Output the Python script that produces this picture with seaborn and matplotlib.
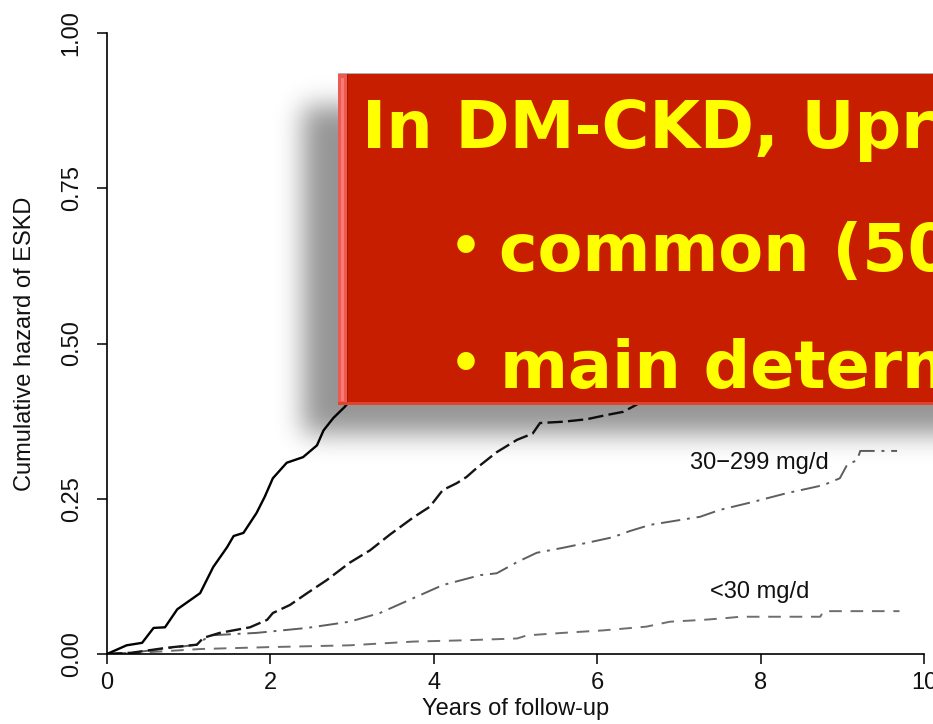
import numpy as np
import matplotlib
matplotlib.use("Agg")
import matplotlib.pyplot as plt
import seaborn as sns
from matplotlib.patches import Rectangle

# ---------------- data ----------------
# highest-risk group (solid black) - label hidden behind the overlay box
t_solid = [0, 0.24, 0.43, 0.57, 0.71, 0.86, 1.14, 1.30, 1.47, 1.55, 1.67, 1.83,
           1.93, 2.03, 2.20, 2.40, 2.57, 2.65, 2.77, 2.91, 3.05]
h_solid = [0, 0.014, 0.018, 0.042, 0.043, 0.072, 0.098, 0.140, 0.172, 0.190, 0.195,
           0.227, 0.253, 0.283, 0.308, 0.317, 0.336, 0.360, 0.380, 0.398, 0.420]

# second group (dashed black) - label hidden behind the overlay box
t_dash = [0, 0.30, 0.73, 1.10, 1.18, 1.38, 1.75, 1.96, 2.03, 2.24, 2.45, 2.69, 2.97,
          3.22, 3.46, 3.75, 3.95, 4.11, 4.28, 4.40, 4.53, 4.77, 5.02, 5.21, 5.30,
          5.58, 5.87, 6.12, 6.32, 6.60]
h_dash = [0, 0.002, 0.010, 0.015, 0.026, 0.034, 0.043, 0.055, 0.066, 0.079, 0.098,
          0.119, 0.147, 0.167, 0.192, 0.220, 0.237, 0.264, 0.275, 0.285, 0.300,
          0.325, 0.345, 0.355, 0.372, 0.374, 0.378, 0.385, 0.390, 0.410]

# 30-299 mg/d (dash-dot grey)
t_mid = [0, 0.30, 1.10, 1.26, 1.83, 2.45, 2.97, 3.34, 3.75, 4.11, 4.57, 4.77, 5.02,
         5.26, 5.58, 5.91, 6.19, 6.40, 6.65, 7.26, 7.50, 7.91, 8.32, 8.60, 8.77,
         8.97, 9.06, 9.18, 9.22, 9.67]
h_mid = [0, 0.002, 0.015, 0.030, 0.034, 0.042, 0.052, 0.066, 0.090, 0.111, 0.127,
         0.130, 0.148, 0.163, 0.171, 0.180, 0.188, 0.198, 0.208, 0.221, 0.232,
         0.245, 0.259, 0.267, 0.272, 0.283, 0.305, 0.312, 0.327, 0.327]

# <30 mg/d (dashed grey)
t_low = [0, 0.40, 1.14, 1.96, 2.97, 3.75, 4.36, 5.02, 5.14, 5.58, 6.07, 6.60, 6.89,
         7.30, 7.59, 7.75, 8.73, 8.77, 9.70]
h_low = [0, 0.002, 0.008, 0.011, 0.014, 0.020, 0.022, 0.025, 0.030, 0.034, 0.038,
         0.044, 0.052, 0.055, 0.058, 0.060, 0.060, 0.069, 0.069]

x_ticks = [0, 2, 4, 6, 8, 10]
y_ticks = [0.0, 0.25, 0.5, 0.75, 1.0]
y_tick_labels = ["0.00", "0.25", "0.50", "0.75", "1.00"]

label_mid = "30\u2212299 mg/d"
label_low = "<30 mg/d"
x_title = "Years of follow-up"
y_title = "Cumulative hazard of ESKD"

box_line1 = "In DM-CKD, Upr"
box_line2 = "common (50"
box_line3 = "main determ"

# ---------------- style ----------------
sns.set_style("ticks")
plt.rcParams["font.family"] = ["Liberation Sans", "DejaVu Sans"]

W, H = 933, 724
fig = plt.figure(figsize=(W / 100, H / 100), dpi=100)
fig.patch.set_facecolor("white")
ax = fig.add_axes([107 / W, 1 - 654 / H, 817 / W, 621 / H])

common = dict(ax=ax, estimator=None, sort=False, legend=False)
sns.lineplot(x=t_low, y=h_low, color="#6e6e6e", lw=1.4,
             linestyle=(0, (6.5, 4.5)), **common)
sns.lineplot(x=t_mid, y=h_mid, color="#5e5e5e", lw=1.4,
             linestyle=(0, (10, 3.5, 1.5, 3.5)), **common)
sns.lineplot(x=t_dash, y=h_dash, color="#151515", lw=1.7,
             linestyle=(0, (6.5, 2.2)), **common)
sns.lineplot(x=t_solid, y=h_solid, color="black", lw=1.7, **common)

ax.set_xlim(0, 10)
ax.set_ylim(0, 1)
ax.set_xticks(x_ticks)
ax.set_xticklabels([str(v) for v in x_ticks])
ax.set_yticks(y_ticks)
ax.set_yticklabels(y_tick_labels, rotation=90, va="center")
sns.despine(ax=ax)
for s in ("left", "bottom"):
    ax.spines[s].set_linewidth(1.2)
    ax.spines[s].set_color("black")
ax.tick_params(axis="both", length=7.5, width=1.1, color="black",
               labelsize=17, labelcolor="#111111")
ax.tick_params(axis="x", pad=5.5)
ax.tick_params(axis="y", pad=10)
ax.set_xlabel(x_title, fontsize=17, color="#111111")
ax.set_ylabel(y_title, fontsize=17, color="#111111")
ax.xaxis.set_label_coords(0.5, -0.071)
ax.yaxis.set_label_coords(-0.087, 0.5)

ax.text(7.99, 0.3076, label_mid, ha="center", va="center", fontsize=17, color="#111111")
ax.text(7.99, 0.0998, label_low, ha="center", va="center", fontsize=17, color="#111111")

# ---------------- overlay: shadow + red callout box ----------------
ov = fig.add_axes([0, 0, 1, 1], zorder=5)
ov.patch.set_alpha(0)
ov.axis("off")

yy, xx = np.mgrid[0:H, 0:W]
mask = ((xx >= 303) & (yy >= 106) & (yy <= 433)).astype(float)
sigma = 13.0
r = 45
k = np.exp(-0.5 * (np.arange(-r, r + 1) / sigma) ** 2)
k /= k.sum()
padded = np.pad(mask, r, mode="edge")
tmp = np.apply_along_axis(lambda v: np.convolve(v, k, mode="same"), 1, padded)
tmp = np.apply_along_axis(lambda v: np.convolve(v, k, mode="same"), 0, tmp)
blur = tmp[r:-r, r:-r]
rgba = np.zeros((H, W, 4))
rgba[..., 3] = blur * 0.42
ov.imshow(rgba, extent=(0, W, H, 0), aspect="auto", interpolation="bilinear")

BX0, BY0, BY1 = 338, 74, 405
ov.add_patch(Rectangle((BX0, BY0), 700, BY1 - BY0, facecolor="#C81E00", edgecolor="none"))
ov.add_patch(Rectangle((BX0, BY0 - 1.5), 700, 1.5, facecolor="#AFAFAF", edgecolor="none"))
ov.add_patch(Rectangle((BX0, BY0), 9, BY1 - BY0, facecolor="#EC5A52", edgecolor="none"))
ov.add_patch(Rectangle((BX0 + 3, BY0 + 4), 3, BY1 - BY0 - 8, facecolor="#F47C74", edgecolor="none"))
ov.add_patch(Rectangle((BX0 + 9, BY0), 1.2, BY1 - BY0, facecolor="#A81600", edgecolor="none"))
ov.add_patch(Rectangle((BX0, BY1 - 3.5), 700, 3.5, facecolor="#E0442F", edgecolor="none"))

txt = dict(color="#FFFF00", fontsize=47, fontweight="bold",
           family=["DejaVu Sans"], va="baseline", ha="left", clip_on=True)
ov.text(362, 148, box_line1, **txt)
ov.text(499, 271, box_line2, **txt)
ov.text(500, 388, box_line3, **txt)
bul = dict(color="#FFFF00", fontsize=36, fontweight="bold",
           family=["DejaVu Sans"], va="baseline", ha="center", clip_on=True)
ov.text(466, 262, "\u2022", **bul)
ov.text(466, 379, "\u2022", **bul)

ov.set_xlim(0, W)
ov.set_ylim(H, 0)

fig.savefig("out.png", dpi=100, facecolor="white")
